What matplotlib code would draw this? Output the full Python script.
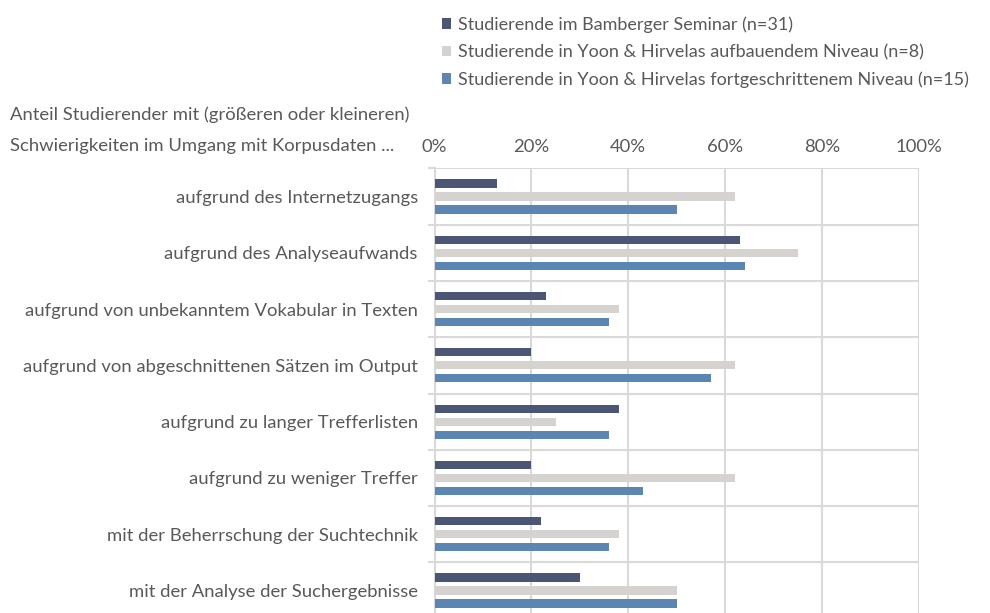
import numpy as np
import matplotlib.pyplot as plt
from matplotlib.ticker import FixedLocator, PercentFormatter

plt.rcParams['font.family'] = ['Lato', 'DejaVu Sans']

categories = [
    "aufgrund des Internetzugangs",
    "aufgrund des Analyseaufwands",
    "aufgrund von unbekanntem Vokabular in Texten",
    "aufgrund von abgeschnittenen Sätzen im Output",
    "aufgrund zu langer Trefferlisten",
    "aufgrund zu weniger Treffer",
    "mit der Beherrschung der Suchtechnik",
    "mit der Analyse der Suchergebnisse",
]
bamberg = [13, 63, 23, 20, 38, 20, 22, 30]
aufbau = [62, 75, 38, 62, 25, 62, 38, 50]
fortgeschritten = [50, 64, 36, 57, 36, 43, 36, 50]

series_names = [
    "Studierende im Bamberger Seminar (n=31)",
    "Studierende in Yoon & Hirvelas aufbauendem Niveau (n=8)",
    "Studierende in Yoon & Hirvelas fortgeschrittenem Niveau (n=15)",
]
colors = ["#4b5674", "#d6d2cf", "#5b86b4"]
text_col = "#595959"
grid_col = "#d9d9d9"
fs = 13.3

W, H = 990, 613
fig = plt.figure(figsize=(W / 100, H / 100), dpi=100)
ax = fig.add_axes([434.5 / W, 1 - 618.7 / H, 484.5 / W, 450.4 / H])

y = np.arange(len(categories))
pitch = 0.231
height = 0.145
for k, vals in enumerate([bamberg, aufbau, fortgeschritten]):
    ax.barh(y + (k - 1) * pitch, vals, height=height, color=colors[k],
            label=series_names[k], zorder=3)

ax.set_xlim(0, 100)
ax.set_ylim(len(categories) - 0.5, -0.5)
ax.xaxis.tick_top()
ax.set_xticks(np.arange(0, 101, 20))
ax.xaxis.set_major_formatter(PercentFormatter(decimals=0))
ax.tick_params(axis='x', length=0, pad=9.5, labelsize=fs, labelcolor=text_col)
ax.set_yticks(y)
ax.set_yticklabels(categories)
ax.tick_params(axis='y', which='major', length=0, pad=12, labelsize=fs,
               labelcolor=text_col)
ax.yaxis.set_minor_locator(FixedLocator(np.arange(-0.5, len(categories), 1)))
ax.tick_params(axis='y', which='minor', length=5, width=1.5, color=grid_col)
ax.grid(axis='x', which='major', color=grid_col, linewidth=1.5, zorder=0)
ax.grid(axis='y', which='minor', color=grid_col, linewidth=1.5, zorder=0)
for side in ['top', 'bottom', 'right']:
    ax.spines[side].set_visible(False)
ax.spines['left'].set_color(grid_col)
ax.spines['left'].set_linewidth(1.5)

fig.text(10 / W, 1 - 115 / H, "Anteil Studierender mit (größeren oder kleineren)",
         fontsize=fs, color=text_col, va='center', ha='left')
fig.text(10 / W, 1 - 146 / H, "Schwierigkeiten im Umgang mit Korpusdaten ...",
         fontsize=fs, color=text_col, va='center', ha='left')

handles, labels = ax.get_legend_handles_labels()
fig.legend(handles, labels, loc='upper left', bbox_to_anchor=(435 / W, 1 - 9 / H),
           frameon=False, fontsize=13.0, labelcolor=text_col, handlelength=0.5,
           handleheight=0.5, handletextpad=0.35, labelspacing=0.62, borderaxespad=0)

fig.savefig("out.png", dpi=100)
